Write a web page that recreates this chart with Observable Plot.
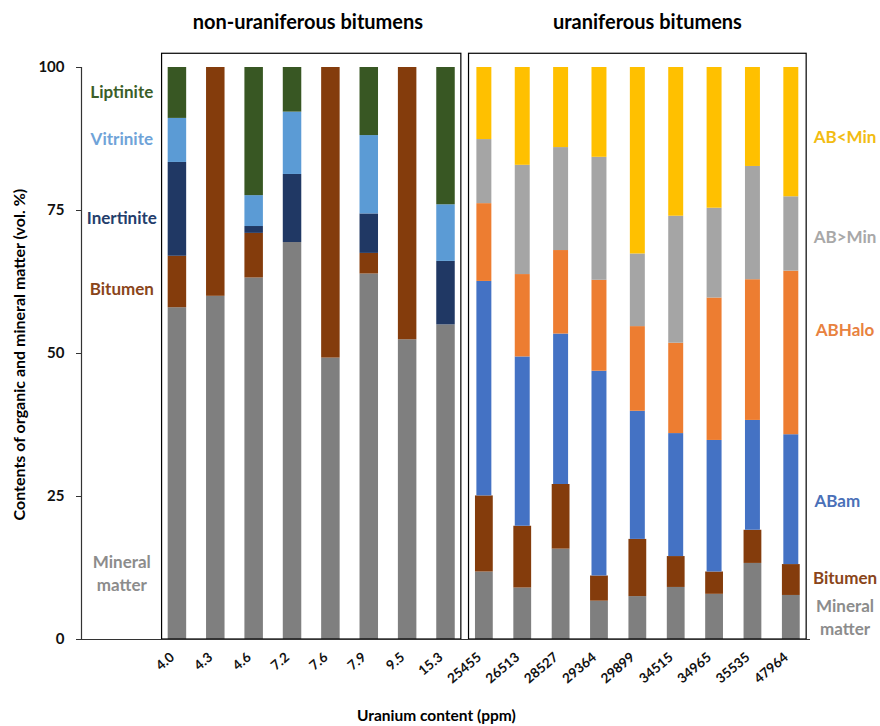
<!DOCTYPE html>
<html>
<head>
<meta charset="utf-8">
<script src="https://cdn.jsdelivr.net/npm/d3@7"></script>
<script src="https://cdn.jsdelivr.net/npm/@observablehq/plot@0.6"></script>
<style>
  body { margin: 0; background: #fff; }
  #chart svg { display: block; }
</style>
</head>
<body>
<div id="chart"></div>
<script>
// ---- Data (vol. %) ----
const nonUraniferousSamples = ["4.0", "4.3", "4.6", "7.2", "7.6", "7.9", "9.5", "15.3"];
const uraniferousSamples = ["25455", "26513", "28527", "29364", "29899", "34515", "34965", "35535", "47964"];

// non-uraniferous bitumens (bottom to top)
const nuMineral    = [58.0, 60.0, 63.2, 69.4, 49.2, 63.9, 52.4, 55.0];
const nuBitumen    = [ 9.0, 40.0,  7.8,  0.0, 50.8,  3.6, 47.6,  0.0];
const nuInertinite = [16.4,  0.0,  1.2, 11.9,  0.0,  6.9,  0.0, 11.1];
const nuVitrinite  = [ 7.7,  0.0,  5.4, 10.9,  0.0, 13.7,  0.0,  9.9];
const nuLiptinite  = [ 8.9,  0.0, 22.4,  7.8,  0.0, 11.9,  0.0, 24.0];

// uraniferous bitumens (bottom to top)
const uMineral = [11.8,  9.0, 15.8,  6.7,  7.5,  9.1,  7.9, 13.3,  7.7];
const uBitumen = [13.3, 10.8, 11.3,  4.4, 10.0,  5.4,  3.9,  5.8,  5.4];
const uABam    = [37.5, 29.6, 26.3, 35.8, 22.4, 21.5, 23.0, 19.2, 22.7];
const uABHalo  = [13.6, 14.4, 14.6, 15.9, 14.8, 15.8, 24.9, 24.6, 28.6];
const uABgtMin = [11.2, 19.1, 18.0, 21.5, 12.7, 22.2, 15.7, 19.8, 13.0];
const uABltMin = [12.6, 17.1, 14.0, 15.7, 32.6, 26.0, 24.6, 17.3, 22.6];

const componentNames  = ["Mineral matter", "Bitumen", "Inertinite", "Vitrinite", "Liptinite", "ABam", "ABHalo", "AB>Min", "AB<Min"];
const componentColors = ["#7f7f7f", "#843c0c", "#203864", "#5b9bd5", "#385723", "#4472c4", "#ed7d31", "#a5a5a5", "#ffc000"];

const yTicks = [0, 25, 50, 75, 100];
const panelTitles = ["non-uraniferous bitumens", "uraniferous bitumens"];

// side labels
const leftLabels  = ["Liptinite", "Vitrinite", "Inertinite", "Bitumen", "Mineral\nmatter"];
const leftLabelY  = [96, 87.8, 74, 61.5, 11.8];
const leftLabelColors = ["#3b5e28", "#6fa3d8", "#233d6b", "#8a451a", "#8c8c8c"];
const rightLabels = ["AB<Min", "AB>Min", "ABHalo", "ABam", "Bitumen", "Mineral\nmatter"];
const rightLabelY = [88, 70.6, 54.4, 24.5, 11, 4.0];
const rightLabelColors = ["#f2bc12", "#a8a8a8", "#e8823f", "#4a70b8", "#8a451a", "#8c8c8c"];

const xTitle = "Uranium content (ppm)";
const yTitle = "Contents of organic and mineral matter (vol. %)";

// ---- Build tables ----
const samples = [...nonUraniferousSamples, ...uraniferousSamples];
const rows = [];
function addStacks(list, offset, series) {
  list.forEach((s, k) => {
    let acc = 0;
    for (const [name, values] of series) {
      const v = values[k];
      rows.push({i: offset + k, sample: s, component: name, y1: acc, y2: acc + v, panel: offset === 0 ? 0 : 1});
      acc += v;
    }
  });
}
addStacks(nonUraniferousSamples, 0, [
  ["Mineral matter", nuMineral], ["Bitumen", nuBitumen], ["Inertinite", nuInertinite],
  ["Vitrinite", nuVitrinite], ["Liptinite", nuLiptinite]
]);
addStacks(uraniferousSamples, nonUraniferousSamples.length, [
  ["Mineral matter", uMineral], ["Bitumen", uBitumen], ["ABam", uABam],
  ["ABHalo", uABHalo], ["AB>Min", uABgtMin], ["AB<Min", uABltMin]
]);

const nL = nonUraniferousSamples.length, nR = uraniferousSamples.length;
const panels = [
  {title: panelTitles[0], first: 0, last: nL - 1, tx: 3.4},
  {title: panelTitles[1], first: nL, last: nL + nR - 1, tx: 12.25}
];

function halfWidth(d) {
  if (d.panel === 0) return 0.241;
  return (d.component === "Mineral matter" || d.component === "Bitumen") ? 0.232 : 0.195;
}

const sideLabels = [
  ...leftLabels.map((t, k) => ({text: t, x: -1.45, y: leftLabelY[k], color: leftLabelColors[k]})),
  ...rightLabels.map((t, k) => ({text: t, x: t === "ABam" ? 17.2 : 17.4, y: rightLabelY[k], color: rightLabelColors[k]}))
];

const font = "Lato, 'Open Sans', 'DejaVu Sans', sans-serif";

const plot = Plot.plot({
  width: 880,
  height: 726,
  marginLeft: 81,
  marginRight: 70,
  marginTop: 67,
  marginBottom: 87,
  style: {fontFamily: font, fontWeight: "bold", fontSize: "13px", color: "#111", background: "#fff"},
  x: {type: "linear", domain: [-2.5, samples.length - 0.5]},
  y: {domain: [0, 100]},
  color: {domain: componentNames, range: componentColors},
  marks: [
    Plot.rect(rows, {
      x1: d => d.i - halfWidth(d),
      x2: d => d.i + halfWidth(d),
      y1: "y1", y2: "y2", fill: "component"
    }),
    Plot.rect(panels, {
      x1: d => d.first - 0.4, x2: d => d.last + 0.4,
      y1: 0, y2: 102.4, fill: "none", stroke: "#000", strokeWidth: 1.2
    }),
    Plot.ruleX([-2.5], {y1: 0, y2: 100, stroke: "#333", strokeWidth: 1.2}),
    Plot.ruleY([0], {x1: -2.5, x2: samples.length - 0.5, stroke: "#333", strokeWidth: 1.2}),
    Plot.axisY({ticks: yTicks, tickSize: 5, tickPadding: 12, fontSize: 15, label: null, stroke: "#333"}),
    Plot.axisX({
      ticks: d3.range(samples.length), tickFormat: i => samples[i],
      tickRotate: -40, tickSize: 0, tickPadding: 12, fontSize: 13.5, label: null, dx: -5, dy: 4
    }),
    Plot.text(sideLabels, {
      x: "x", y: "y", text: "text", fill: d => d.color,
      fontSize: 17, fontWeight: "bold", lineHeight: 1.35
    }),
    Plot.text(panels, {
      x: "tx", y: 107.9, text: "title", fontSize: 20, fontWeight: "bold", fill: "#000"
    }),
    Plot.text([yTitle], {
      x: -2.5, y: 49.8, dx: -62, rotate: -90, text: d => d, fontSize: 16, fontWeight: "bold", fill: "#000"
    }),
    Plot.text([xTitle], {
      x: 6.75, y: 0, dy: 77, text: d => d, fontSize: 15.5, fontWeight: "bold", fill: "#000"
    })
  ]
});
document.getElementById("chart").appendChild(plot);
</script>
</body>
</html>
